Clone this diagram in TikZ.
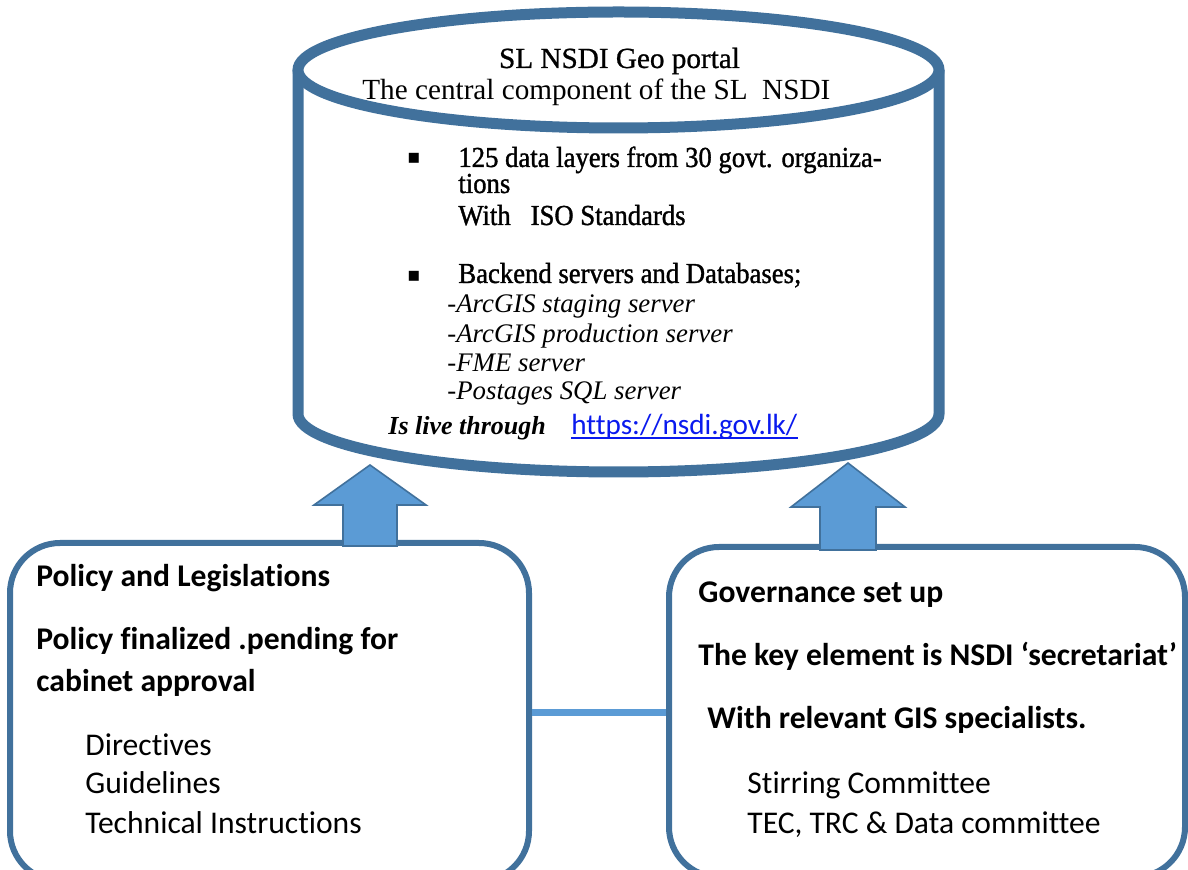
\documentclass[tikz,border=0pt]{standalone}
\usepackage{fontspec}
\usepackage{xcolor}
\usepackage{tikz}
\setmainfont{Liberation Serif}
\newfontfamily\calibri[Ligatures=NoCommon]{Carlito}
\newfontfamily\narrowserif[FakeStretch=0.92,FakeBold=1.2]{Liberation Serif}
\newfontfamily\titleserif[FakeBold=0.8]{Liberation Serif}
\newfontfamily\symbolfont{DejaVu Sans}
\definecolor{portalblue}{HTML}{41719C}
\definecolor{arrowblue}{HTML}{5B9BD5}
\definecolor{linkblue}{HTML}{0A1AEE}

\begin{document}
\begin{tikzpicture}[x=0.5pt, y=0.5pt]
    \tikzstyle{portal} = [draw=portalblue, line width=5.5pt, fill=white]
    \tikzstyle{block} = [rectangle, draw=portalblue, line width=3pt, fill=white, rounded corners=25pt, inner sep=0pt]
    \tikzstyle{uparrow} = [draw=portalblue, line width=0.8pt, fill=arrowblue, line join=miter]
    \tikzstyle{joint} = [draw=arrowblue, line width=3.5pt]
    \tikzstyle{txt} = [anchor=base west, inner sep=0pt]
    \tikzstyle{title} = [txt, font=\fontsize{14.6}{17}\selectfont]
    \tikzstyle{body} = [txt, font=\narrowserif\fontsize{14.5}{17}\selectfont]
    \tikzstyle{server} = [txt, font=\itshape\fontsize{13.4}{16}\selectfont]
    \tikzstyle{bullet} = [inner sep=0pt, font=\symbolfont\fontsize{10}{10}\selectfont]
    \tikzstyle{boxhead} = [txt, font=\calibri\bfseries\fontsize{15.8}{19}\selectfont]
    \tikzstyle{boxitem} = [txt, font=\calibri\fontsize{15.8}{19}\selectfont]

    \useasboundingbox (0,0) rectangle (1188,-870);
    \fill[white] (0,0) rectangle (1188,-870);
    \clip (0,0) rectangle (1188,-870);

    % geo portal cylinder
    \draw[portal] (298,-70) -- (298,-414) arc[start angle=180, end angle=360, x radius=160.25pt, y radius=29pt] -- (939,-70);
    \draw[portal] (618.5,-70) ellipse [x radius=160.25pt, y radius=29pt];

    \node[txt, anchor=base, font=\titleserif\fontsize{14.6}{17}\selectfont] (portalname) at (619.5,-68) {SL NSDI Geo portal};
    \node[title] (portalrole) at (362,-100) {The central component of the SL\ \ NSDI};

    \node[bullet] (dot1) at (414,-158) {▪};
    \node[body] (layers) at (458,-167) {125 data layers from 30 govt. organiza-};
    \node[body] (layers2) at (458,-193) {tions};
    \node[body] (iso) at (458,-225) {With\ \ \ ISO Standards};
    \node[bullet] (dot2) at (414,-276) {▪};
    \node[body] (backend) at (458,-283) {Backend servers and Databases;};
    \node[server] (staging) at (447,-313) {-ArcGIS staging server};
    \node[server] (production) at (447,-343) {-ArcGIS production server};
    \node[server] (fme) at (447,-372) {-FME server};
    \node[server] (postgres) at (447,-400) {-Postages SQL server};
    \node[txt, font=\bfseries\itshape\fontsize{13}{16}\selectfont] (live) at (388,-435) {Is live through};
    \node[txt, text=linkblue, font=\calibri\fontsize{14.6}{17}\selectfont] (url) at (571,-435) {https://nsdi.gov.lk/};
    \draw[linkblue, line width=0.8pt] ([yshift=-1.6pt]url.base west) -- ([yshift=-1.6pt]url.base east);

    % policy and governance blocks
    \node[block, minimum width=259.5pt, minimum height=169pt] (policy) at (269.5,-712) {};
    \node[block, minimum width=258pt, minimum height=165pt] (governance) at (927,-712) {};

    \draw[joint] (policy.east) -- (governance.west);

    \draw[uparrow, shift={(370,-465)}] (0,0) -- (56,-40) -- (27,-40) -- (27,-81) -- (-27,-81) -- (-27,-40) -- (-56,-40) -- cycle;
    \draw[uparrow, shift={(848,-463)}] (0,0) -- (57,-44) -- (28,-44) -- (28,-87) -- (-28,-87) -- (-28,-44) -- (-57,-44) -- cycle;

    \node[boxhead] (policyhead) at (36,-587) {Policy and Legislations};
    \node[boxhead] (policystate) at (36,-650) {Policy finalized .pending for};
    \node[boxhead] (policystate2) at (36,-691) {cabinet approval};
    \node[boxitem] (directives) at (85,-755) {Directives};
    \node[boxitem] (guidelines) at (85,-793) {Guidelines};
    \node[boxitem] (instructions) at (85,-833) {Technical Instructions};

    \node[boxhead] (govhead) at (698,-603) {Governance set up};
    \node[boxhead] (secretariat) at (698,-666) {The key element is NSDI ‘secretariat’};
    \node[boxhead] (specialists) at (707,-728) {With relevant GIS specialists.};
    \node[boxitem] (stirring) at (747,-793) {Stirring Committee};
    \node[boxitem] (committees) at (747,-833) {TEC, TRC \& Data committee};
\end{tikzpicture}
\end{document}
